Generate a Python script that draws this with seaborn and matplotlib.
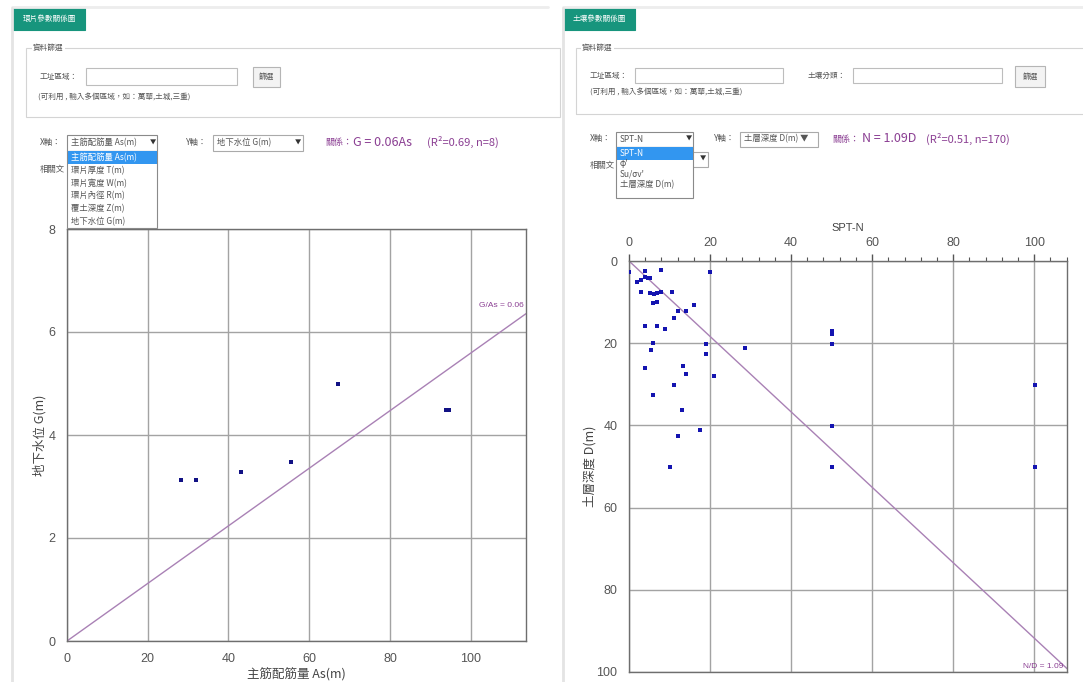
import matplotlib
matplotlib.use('Agg')
import matplotlib.pyplot as plt
from matplotlib.patches import Rectangle
from matplotlib.lines import Line2D
from matplotlib.ticker import MultipleLocator
import seaborn as sns

# Left chart: 主筋配筋量 As vs 地下水位 G
as_vals = [28.3, 31.9, 43.0, 55.6, 67.2, 94.0, 94.6, 94.6]
g_vals = [3.13, 3.13, 3.28, 3.48, 4.99, 4.48, 4.48, 4.48]
g_slope = 0.0559
g_xmax, g_ymax = 113.7, 8

# Right chart: SPT-N vs 土層深度 D
spt_n = [0, 4.0, 8.0, 20.1, 2.0, 3.0, 4.0, 4.7, 5.1, 3.0, 5.1, 6.1, 7.0, 8.0,
         10.7, 6.0, 7.0, 16.0, 12.0, 14.1, 11.0, 4.0, 7.0, 9.0, 6.0, 5.5, 19.0,
         19.0, 28.7, 50.1, 50.1, 50.1, 4.0, 13.4, 14.1, 21.0, 11.0, 6.0, 100.1,
         13.0, 17.4, 12.0, 50.1, 10.0, 50.1, 100.1]
depth = [2.6, 2.4, 2.2, 2.7, 5.1, 4.7, 4.0, 4.1, 4.2, 7.5, 7.9, 8.0, 7.9, 7.6,
         7.6, 10.1, 9.9, 10.7, 12.1, 12.2, 13.8, 15.7, 15.7, 16.6, 20.0, 21.7,
         20.1, 22.6, 21.1, 17.0, 17.7, 20.1, 26.1, 25.5, 27.6, 28.1, 30.2, 32.7,
         30.2, 36.3, 41.2, 42.7, 40.1, 50.1, 50.1, 50.1]
n_ratio = 1.09
n_xmax, d_ymax = 108.1, 100

x_options_left = ['主筋配筋量 As(m)', '環片厚度 T(m)', '環片寬度 W(m)',
                  '環片內徑 R(m)', '覆土深度 Z(m)', '地下水位 G(m)']
x_options_right = ['SPT-N', "φ'", "Su/σv'", '土層深度 D(m)']

sns.set_style('white')
plt.rcParams['font.family'] = ['Noto Sans CJK TC', 'DejaVu Sans']

W, H = 1083, 682
fig = plt.figure(figsize=(W / 100, H / 100), dpi=100)


def fx(x):
    return x / W


def fy(y):
    return 1 - y / H


def rect(x0, y0, x1, y1, fc='none', ec='#c8c8c8', lw=0.8, z=1):
    fig.patches.append(Rectangle((fx(x0), fy(y1)), (x1 - x0) / W, (y1 - y0) / H,
                                 transform=fig.transFigure, fc=fc, ec=ec, lw=lw, zorder=z))


def line(x0, y0, x1, y1, color='#e2e2e2', lw=1.5):
    fig.lines.append(Line2D([fx(x0), fx(x1)], [fy(y0), fy(y1)],
                            transform=fig.transFigure, color=color, lw=lw))


def txt(x, y, s, size=6, color='#555555', ha='left', **kw):
    fig.text(fx(x), fy(y), s, fontsize=size, color=color, ha=ha, va='center', **kw)


# ---- page / panel decoration ----
for px0, px1 in [(12, 548), (563, 1083)]:
    line(px0, 7, px1, 7, color='#ededed', lw=2)
    line(px0, 8, px0, 682, color='#e4e4e4', lw=2)

# tabs
rect(13, 8, 85, 30, fc='#17957d', ec='#17957d')
txt(49, 19, '環片參數關係圖', size=5.5, color='white', ha='center')
rect(563, 8, 635, 30, fc='#17957d', ec='#17957d')
txt(599, 19, '土壤參數關係圖', size=5.5, color='white', ha='center')

# filter boxes (left)
rect(26, 48, 560, 117, ec='#d4d4d4')
txt(33, 48, '資料篩選', size=5.5, bbox=dict(fc='white', ec='none', pad=1))
txt(40, 77, '工址區域：', size=5.5)
rect(86, 68, 237, 85, fc='white', ec='#bdbdbd')
rect(253, 67, 280, 87, fc='#f3f3f3', ec='#b5b5b5')
txt(266.5, 77, '篩選', size=5.5, ha='center')
txt(38, 97, '(可利用 , 輸入多個區域，如：萬華,土城,三重)', size=5.5)

# filter boxes (right)
rect(576, 48, 1090, 114, ec='#d4d4d4')
txt(582, 48, '資料篩選', size=5.5, bbox=dict(fc='white', ec='none', pad=1))
txt(590, 76, '工址區域：', size=5.5)
rect(635, 68, 783, 83, fc='white', ec='#bdbdbd')
txt(808, 76, '土壤分類：', size=5.5)
rect(853, 68, 1002, 83, fc='white', ec='#bdbdbd')
rect(1015, 66, 1045, 87, fc='#f3f3f3', ec='#b5b5b5')
txt(1030, 76.5, '篩選', size=5.5, ha='center')
txt(590, 92, '(可利用 , 輸入多個區域，如：萬華,土城,三重)', size=5.5)

# axis selectors (left)
txt(40, 143, 'X軸：', size=6)
rect(67, 135, 157, 151, fc='white', ec='#8a8a8a')
txt(71, 143, x_options_left[0], size=6)
txt(150, 143, '▼', size=4.5, color='#333333')
txt(186, 143, 'Y軸：', size=6)
rect(213, 135, 303, 151, fc='white', ec='#aaaaaa')
txt(217, 143, '地下水位 G(m)', size=6)
txt(295, 143, '▼', size=4.5, color='#333333')
txt(325, 142, '關係：', size=6.5, color='#8b3f93')
txt(353, 142, 'G = 0.06As', size=9, color='#8b3f93')
txt(427, 142, '(R²=0.69, n=8)', size=8, color='#8b3f93')
txt(40, 169, '相關文', size=6)
rect(67, 151, 157, 228, fc='white', ec='#8a8a8a', z=2)
rect(67.5, 151, 156.5, 164, fc='#3296f0', ec='none', z=2)
for i, opt in enumerate(x_options_left):
    txt(71, 157.5 + i * 12.8, opt, size=6,
        color='white' if i == 0 else '#555555', zorder=4)

# axis selectors (right)
txt(590, 139, 'X軸：', size=6)
rect(616, 132, 693, 147, fc='white', ec='#8a8a8a')
txt(620, 139, x_options_right[0], size=6)
txt(686, 139, '▼', size=4.5, color='#333333')
txt(714, 139, 'Y軸：', size=6)
rect(740, 132, 818, 147, fc='white', ec='#aaaaaa')
txt(744, 139, '土層深度 D(m) ▼', size=6)
txt(832, 139, '關係：', size=6.5, color='#8b3f93')
txt(862, 139, 'N = 1.09D', size=9, color='#8b3f93')
txt(926, 139, '(R²=0.51, n=170)', size=8, color='#8b3f93')
txt(590, 165, '相關文', size=6)
rect(680, 152, 708, 167, fc='white', ec='#aaaaaa')
txt(700, 159, '▼', size=4.5, color='#333333')
rect(616, 147, 693, 198, fc='white', ec='#8a8a8a', z=2)
rect(616.5, 147, 692.5, 160, fc='#3296f0', ec='none', z=2)
for i, opt in enumerate(x_options_right):
    txt(620, 153.5 + i * 10.5, opt, size=6,
        color='white' if i == 0 else '#555555', zorder=4)


def style_axes(ax, xminor, yminor):
    ax.grid(True, which='major', color='#a3a3a3', lw=1)
    ax.set_axisbelow(True)
    for sp in ax.spines.values():
        sp.set_visible(True)
        sp.set_color('#6e6e6e')
        sp.set_linewidth(1)
    ax.xaxis.set_major_locator(MultipleLocator(20))
    ax.xaxis.set_minor_locator(MultipleLocator(xminor))
    ax.yaxis.set_minor_locator(MultipleLocator(yminor))
    ax.tick_params(which='both', direction='out', color='#555555',
                   labelcolor='#555555', labelsize=9)
    ax.tick_params(which='major', length=5, width=1)
    ax.tick_params(which='minor', length=3, width=0.8)
    for lab in ax.get_xticklabels() + ax.get_yticklabels():
        lab.set_family(['Liberation Sans', 'DejaVu Sans'])


# ---- left chart ----
ax1 = fig.add_axes([fx(67), fy(641), (526 - 67) / W, (641 - 229) / H])
sns.lineplot(x=[0, g_xmax], y=[0, g_slope * g_xmax], ax=ax1, color='#a981b5', lw=1)
sns.scatterplot(x=as_vals, y=g_vals, ax=ax1, marker='s', s=12, color='#111184',
                linewidth=0, zorder=3)
ax1.set_xlim(0, g_xmax)
ax1.set_ylim(0, g_ymax)
ax1.yaxis.set_major_locator(MultipleLocator(2))
style_axes(ax1, 4, 0.4)
ax1.text(g_xmax - 0.6, g_slope * g_xmax + 0.1, 'G/As = 0.06', fontsize=6,
         color='#8b3f93', ha='right', va='bottom',
         family=['Liberation Sans', 'DejaVu Sans'])
ax1.set_xlabel('主筋配筋量 As(m)', fontsize=9, color='#444444')
ax1.set_ylabel('地下水位 G(m)', fontsize=9, color='#444444')
ax1.xaxis.set_label_coords(0.5, -0.082)
ax1.xaxis.label.set_verticalalignment('center')
ax1.yaxis.set_label_coords(-0.06, 0.5)
ax1.yaxis.label.set_verticalalignment('center')

# ---- right chart ----
ax2 = fig.add_axes([fx(629), fy(672), (1067 - 629) / W, (672 - 261) / H])
sns.lineplot(x=[0, n_xmax], y=[0, n_xmax / n_ratio], ax=ax2, color='#a981b5', lw=1)
sns.scatterplot(x=spt_n, y=depth, ax=ax2, marker='s', s=12, color='#1414b0',
                linewidth=0, zorder=3)
ax2.set_xlim(0, n_xmax)
ax2.set_ylim(d_ymax, 0)
ax2.yaxis.set_major_locator(MultipleLocator(20))
ax2.xaxis.tick_top()
ax2.xaxis.set_label_position('top')
style_axes(ax2, 4, 4)
ax2.tick_params(axis='x', which='both', top=True, bottom=False,
                labeltop=True, labelbottom=False)
ax2.text(n_xmax - 0.8, d_ymax - 0.6, 'N/D = 1.09', fontsize=6,
         color='#8b3f93', ha='right', va='bottom',
         family=['Liberation Sans', 'DejaVu Sans'])
ax2.set_xlabel('SPT-N', fontsize=8, color='#444444',
               family=['Liberation Sans', 'DejaVu Sans'])
ax2.set_ylabel('土層深度 D(m)', fontsize=9, color='#444444')
ax2.xaxis.set_label_coords(0.5, 1.08)
ax2.xaxis.label.set_verticalalignment('center')
ax2.yaxis.set_label_coords(-0.089, 0.5)
ax2.yaxis.label.set_verticalalignment('center')

fig.savefig('out.png', dpi=100)
